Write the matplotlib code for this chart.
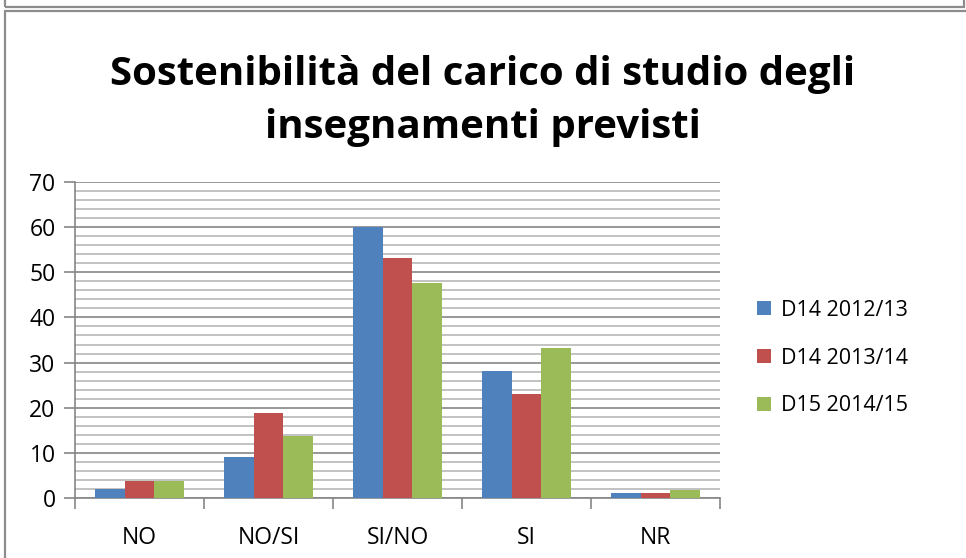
import numpy as np
import matplotlib
matplotlib.use('Agg')
import matplotlib.pyplot as plt
from matplotlib.patches import Rectangle

plt.rcParams['font.family'] = ['Open Sans', 'DejaVu Sans']

categories = ['NO', 'NO/SI', 'SI/NO', 'SI', 'NR']
d14_2012 = [2.0, 9.0, 60.0, 28.1, 1.0]
d14_2013 = [3.7, 18.8, 53.1, 23.0, 1.1]
d15_2014 = [3.7, 13.7, 47.6, 33.2, 1.8]
series_names = ['D14 2012/13', 'D14 2013/14', 'D15 2014/15']
colors = ['#4F81BD', '#C0504D', '#9BBB59']

W, H = 966, 558
fig = plt.figure(figsize=(W/100, H/100), dpi=100)

# frames of the sheet screenshot (upper one cut at top, lower one cut at right/bottom)
fig.patches.append(Rectangle((5/W, 1-7/H), 959/W, 20/H, transform=fig.transFigure,
                             fill=False, edgecolor='#8c8c8c', lw=1.6))
fig.patches.append(Rectangle((5/W, -0.05), 1.0, 1-11/H+0.05, transform=fig.transFigure,
                             fill=False, edgecolor='#8c8c8c', lw=1.6))

ax = fig.add_axes([75/W, 1-498/H, 645/W, 316/H])

x = np.arange(len(categories))
w = 0.232
for i, (vals, name) in enumerate(zip([d14_2012, d14_2013, d15_2014], series_names)):
    ax.bar(x + (i-1)*w, vals, width=w, color=colors[i], label=name, zorder=3)

ax.set_xlim(-0.5, len(categories)-0.5)
ax.set_ylim(0, 70)
ax.set_yticks(range(0, 71, 10))
ax.set_yticks(range(0, 71, 2), minor=True)
ax.grid(axis='y', which='major', color='#868686', lw=1.2, zorder=0)
ax.grid(axis='y', which='minor', color='#b8b8b8', lw=1.2, zorder=0)

ax.set_xticks(np.arange(-0.5, len(categories), 1))
ax.set_xticklabels([])
ax.set_xticks(x, minor=True)
ax.set_xticklabels(categories, minor=True)
ax.tick_params(axis='x', which='major', length=8, color='#868686', width=1.2)
ax.tick_params(axis='x', which='minor', length=0, pad=20, labelsize=16.5)
ax.tick_params(axis='y', which='major', length=8, color='#868686', width=1.2, labelsize=16.5, pad=6)
ax.tick_params(axis='y', which='minor', length=0)

for s in ['top', 'right']:
    ax.spines[s].set_visible(False)
for s in ['left', 'bottom']:
    ax.spines[s].set_color('#868686')
    ax.spines[s].set_linewidth(1.2)

fig.text(0.5, 1-75/H, 'Sostenibilità del carico di studio degli', ha='center', va='center',
         fontsize=29, fontweight='bold')
fig.text(0.5, 1-128/H, 'insegnamenti previsti', ha='center', va='center',
         fontsize=29, fontweight='bold')

ax.legend(loc='center left', bbox_to_anchor=(757/W, 1-358/H), bbox_transform=fig.transFigure,
          frameon=False, fontsize=15.5, handlelength=0.65, handleheight=0.65, handletextpad=0.45,
          labelspacing=1.25, borderpad=0, borderaxespad=0)

fig.savefig('out.png', dpi=100)
